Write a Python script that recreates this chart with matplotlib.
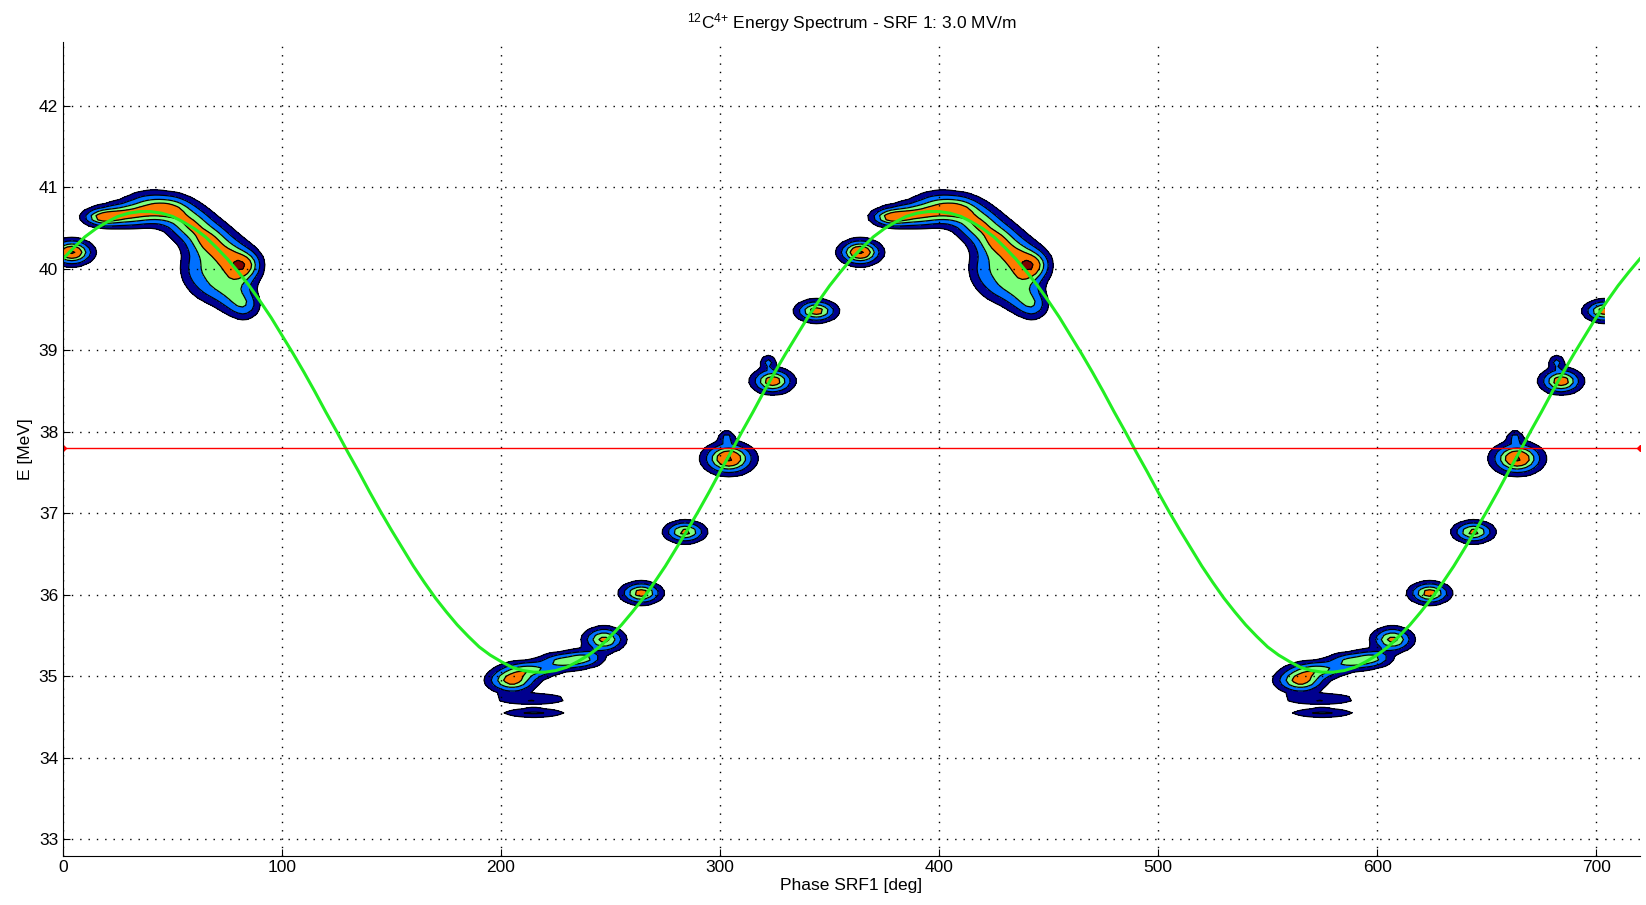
import numpy as np
import matplotlib.pyplot as plt

plt.rcParams['font.family'] = ['Liberation Sans', 'DejaVu Sans']
plt.rcParams['mathtext.fontset'] = 'custom'
plt.rcParams['mathtext.rm'] = 'Liberation Sans'
plt.rcParams['mathtext.it'] = 'Liberation Sans'

# green curve: energy every 5 deg (one RF period, repeats)
phase_curve = np.arange(0, 725, 5)
energy_one_period = [40.12, 40.26, 40.39, 40.49, 40.57, 40.64, 40.68, 40.70, 40.70, 40.68,
                     40.64, 40.57, 40.49, 40.39, 40.26, 40.12, 39.96, 39.79, 39.60, 39.40,
                     39.18, 38.96, 38.73, 38.49, 38.24, 38.00, 37.75, 37.51, 37.26, 37.02,
                     36.79, 36.57, 36.35, 36.15, 35.96, 35.79, 35.63, 35.49, 35.36, 35.26,
                     35.18, 35.11, 35.07, 35.05, 35.05, 35.07, 35.11, 35.18, 35.26, 35.36,
                     35.49, 35.63, 35.79, 35.96, 36.15, 36.35, 36.57, 36.79, 37.02, 37.26,
                     37.51, 37.75, 38.00, 38.24, 38.49, 38.73, 38.96, 39.18, 39.40, 39.60,
                     39.79, 39.96]
energy_curve = energy_one_period * 2 + [40.12]

# reference energy (red line)
e_ref = 37.8

# beam spots (one RF period, repeated every 360 deg): centre phase, centre E, widths, weight
spot_phase = [4, 18, 28, 40, 50, 58, 66, 74, 80, 84, 62, 70, 78, 83,
              205, 213, 228, 238, 247, 214, 215,
              264, 284, 304, 303, 324, 322, 344]
spot_energy = [40.2, 40.63, 40.66, 40.74, 40.72, 40.55, 40.35, 40.15, 39.98, 40.05, 40.0, 39.8, 39.65, 39.55,
               34.95, 35.08, 35.18, 35.22, 35.45, 34.72, 34.55,
               36.02, 36.77, 37.67, 37.93, 38.62, 38.85, 39.48]
spot_sx = [5, 5, 7, 7, 6, 6, 6, 6, 5, 4, 5, 6, 5, 4,
           6, 7, 6, 5, 5, 10, 9,
           5, 5, 6, 2, 5, 2, 5]
spot_sy = [0.08, 0.06, 0.08, 0.11, 0.1, 0.12, 0.13, 0.14, 0.15, 0.1, 0.15, 0.13, 0.12, 0.1,
           0.08, 0.06, 0.06, 0.06, 0.08, 0.04, 0.035,
           0.07, 0.07, 0.1, 0.05, 0.08, 0.05, 0.07]
spot_w = [0.95, 0.65, 0.6, 0.55, 0.5, 0.55, 0.6, 0.55, 0.5, 0.4, 0.3, 0.35, 0.3, 0.3,
          0.75, 0.5, 0.5, 0.45, 0.7, 0.25, 0.25,
          0.75, 0.7, 0.95, 0.28, 0.8, 0.3, 0.75]
period_offsets = [0, 360]

# density map on a coarse grid (histogram-like bins)
ph = np.arange(0, 705, 2.0)
en = np.arange(32.8, 42.8, 0.05)
P, E = np.meshgrid(ph, en)
Z = np.zeros_like(P)
for off in period_offsets:
    for cx, cy, sx, sy, w in zip(spot_phase, spot_energy, spot_sx, spot_sy, spot_w):
        Z += w * np.exp(-0.5 * (((P - cx - off) / sx) ** 2 + ((E - cy) / sy) ** 2))

levels = [0.08, 0.22, 0.42, 0.62, 0.9, 100]
band_colors = ['#00008F', '#0070FF', '#80FF80', '#FF7A00', '#800000']

fig = plt.figure(figsize=(16.46, 9.05), dpi=100)
ax = fig.add_axes([0.0383, 0.0546, 0.958, 0.899])

ax.contourf(P, E, Z, levels=levels, colors=band_colors)
ax.contour(P, E, Z, levels=levels[:-1], colors='black', linewidths=0.9)

ax.plot(phase_curve, energy_curve, color='#22EE22', linewidth=2.2)
ax.plot([0, 720], [e_ref, e_ref], color='red', linewidth=1.0, marker='D', markersize=3)

ax.set_xlim(0, 720)
ax.set_ylim(32.8, 42.78)
ax.set_xticks(range(0, 701, 100))
ax.set_yticks(range(33, 43))
ax.grid(True, linestyle=(0, (1, 5)), color='black', linewidth=1.0)
ax.tick_params(direction='in', length=5, labelsize=12.5)
ax.spines['top'].set_visible(False)
ax.spines['right'].set_visible(False)

ax.set_title('$^{12}$C$^{4{+}}$ Energy Spectrum - SRF 1: 3.0 MV/m', fontsize=12.5, pad=10)
ax.set_xlabel('Phase SRF1 [deg]', fontsize=12.5, labelpad=2)
ax.set_ylabel('E [MeV]', fontsize=12.5)

fig.savefig('out.png', dpi=100)
